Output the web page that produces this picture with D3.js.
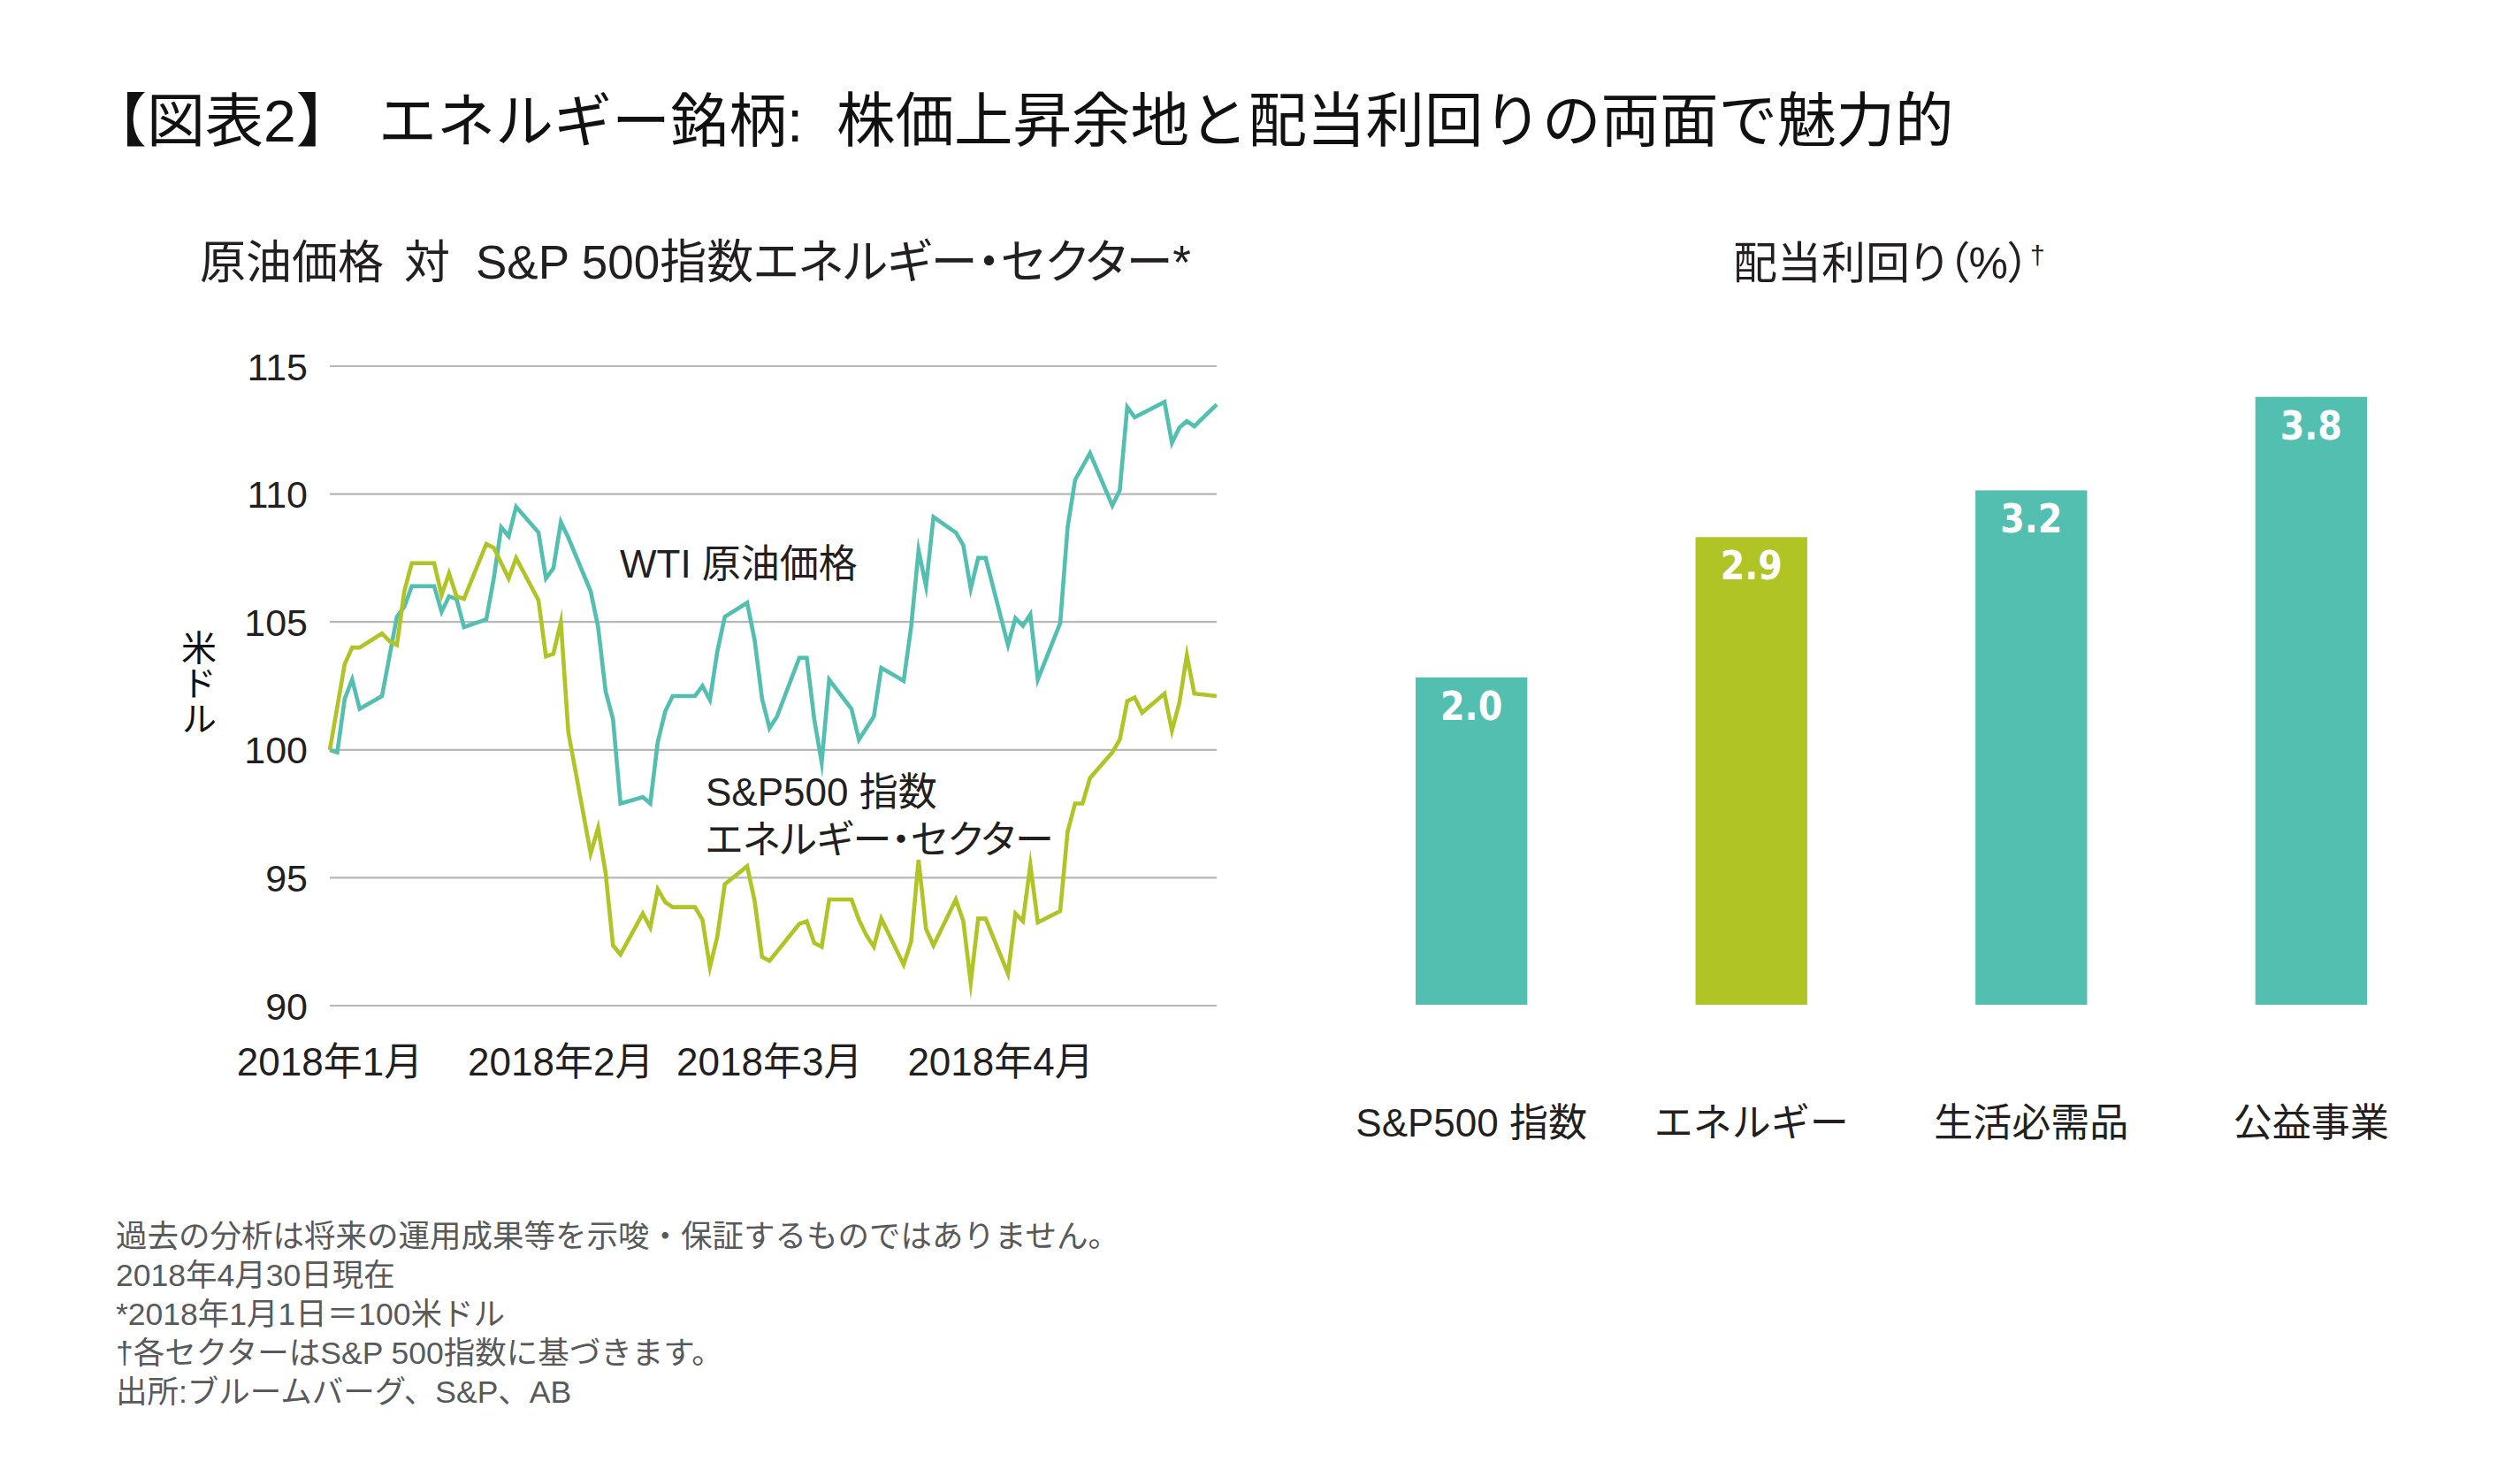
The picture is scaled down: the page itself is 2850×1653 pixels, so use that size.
<!DOCTYPE html>
<html><head><meta charset="utf-8">
<script src="https://cdn.jsdelivr.net/npm/d3@7"></script>
<style>
body{margin:0;background:#fff;}
svg text{font-family:"Liberation Sans",Arial,"Noto Sans CJK JP",sans-serif;}
.palt{font-feature-settings:"palt" 1;}
</style></head><body>
<svg id="chart" width="2850" height="1653"></svg>
<script>
// ---------- data ----------
const wtiDates = ["2018-01-01","2018-01-02","2018-01-03","2018-01-04","2018-01-05","2018-01-08","2018-01-10","2018-01-11","2018-01-12","2018-01-15","2018-01-16","2018-01-17","2018-01-18","2018-01-19","2018-01-22","2018-01-23","2018-01-24","2018-01-25","2018-01-26","2018-01-29","2018-01-30","2018-01-31","2018-02-01","2018-02-02","2018-02-05","2018-02-06","2018-02-07","2018-02-08","2018-02-09","2018-02-12","2018-02-13","2018-02-14","2018-02-15","2018-02-16","2018-02-19","2018-02-20","2018-02-21","2018-02-22","2018-02-23","2018-02-26","2018-02-27","2018-02-28","2018-03-01","2018-03-02","2018-03-05","2018-03-06","2018-03-07","2018-03-08","2018-03-09","2018-03-12","2018-03-13","2018-03-15","2018-03-16","2018-03-19","2018-03-20","2018-03-21","2018-03-22","2018-03-23","2018-03-26","2018-03-27","2018-03-28","2018-03-29","2018-03-30","2018-04-02","2018-04-03","2018-04-04","2018-04-05","2018-04-06","2018-04-09","2018-04-10","2018-04-11","2018-04-13","2018-04-16","2018-04-17","2018-04-18","2018-04-19","2018-04-23","2018-04-24","2018-04-25","2018-04-26","2018-04-27","2018-04-30"];
const wtiValues = [100.0,99.9,102.0,102.75,101.6,102.1,105.2,105.6,106.4,106.4,105.4,106.0,105.9,104.8,105.1,106.7,108.7,108.35,109.5,108.5,106.7,107.1,108.9,108.3,106.2,104.8,102.3,101.2,97.9,98.15,97.9,100.3,101.5,102.1,102.1,102.5,101.95,103.85,105.2,105.75,104.3,102.0,100.85,101.3,103.6,103.6,101.2,99.5,102.75,101.6,100.4,101.3,103.2,102.7,104.8,107.8,106.4,109.1,108.5,108.0,106.3,107.5,107.5,104.1,105.15,104.85,105.3,102.75,104.95,108.7,110.55,111.6,109.55,110.15,113.4,113.0,113.6,112.0,112.6,112.85,112.65,113.5];

const energyDates = ["2018-01-01","2018-01-03","2018-01-04","2018-01-05","2018-01-08","2018-01-09","2018-01-10","2018-01-11","2018-01-12","2018-01-15","2018-01-16","2018-01-17","2018-01-18","2018-01-19","2018-01-22","2018-01-23","2018-01-25","2018-01-26","2018-01-29","2018-01-30","2018-01-31","2018-02-01","2018-02-02","2018-02-05","2018-02-06","2018-02-07","2018-02-08","2018-02-09","2018-02-12","2018-02-13","2018-02-14","2018-02-15","2018-02-16","2018-02-19","2018-02-20","2018-02-21","2018-02-22","2018-02-23","2018-02-26","2018-02-27","2018-02-28","2018-03-01","2018-03-05","2018-03-06","2018-03-07","2018-03-08","2018-03-09","2018-03-12","2018-03-13","2018-03-14","2018-03-15","2018-03-16","2018-03-19","2018-03-20","2018-03-21","2018-03-22","2018-03-23","2018-03-26","2018-03-27","2018-03-28","2018-03-29","2018-03-30","2018-04-02","2018-04-03","2018-04-04","2018-04-05","2018-04-06","2018-04-09","2018-04-10","2018-04-11","2018-04-12","2018-04-13","2018-04-16","2018-04-17","2018-04-18","2018-04-19","2018-04-20","2018-04-23","2018-04-24","2018-04-25","2018-04-26","2018-04-27","2018-04-30"];
const energyValues = [100.0,103.35,104.0,104.0,104.55,104.25,104.1,106.2,107.3,107.3,106.05,106.9,106.0,105.9,108.05,107.9,106.7,107.5,105.85,103.65,103.75,105.0,100.7,95.95,96.95,95.2,92.35,92.0,93.6,93.05,94.55,94.05,93.85,93.85,93.35,91.5,92.7,94.75,95.45,94.1,91.9,91.75,93.2,93.3,92.45,92.3,94.15,94.15,93.35,92.75,92.3,93.4,91.6,92.5,95.7,93.0,92.35,94.15,93.3,90.9,93.4,93.4,91.25,93.6,93.3,95.5,93.25,93.7,96.8,97.9,97.9,98.9,99.9,100.4,101.9,102.05,101.45,102.2,100.75,101.85,103.7,102.2,102.1];

const yTickValues = [90, 95, 100, 105, 110, 115];
const monthTickDates = ["2018-01-01","2018-02-01","2018-03-01","2018-04-01"];
const monthTickLabels = ["2018年1月","2018年2月","2018年3月","2018年4月"];

const barCategories = ["S&P500 指数","エネルギー","生活必需品","公益事業"];
const barValues = [2.0, 2.9, 3.2, 3.8];
const barValueLabels = ["2.0","2.9","3.2","3.8"];

const footnotes = [
  "過去の分析は将来の運用成果等を示唆・保証するものではありません。",
  "2018年4月30日現在",
  "*2018年1月1日＝100米ドル",
  "†各セクターはS&P 500指数に基づきます。",
  "出所:ブルームバーグ、S&P、AB"
];

// ---------- styles ----------
const TEAL = "#52bfb0", GREEN = "#b1c425", INK = "#231f20", GRID = "#b7b7b7", NOTE = "#58595b";
const parse = d3.timeParse("%Y-%m-%d");
const svg = d3.select("#chart");

// ---------- title ----------
const title = svg.append("text").attr("y", 160).attr("font-size", 66).attr("fill", "#111");
title.append("tspan").attr("x", 100).text("【図表2】");
title.append("tspan").attr("x", 428).text("エネルギー銘柄:");
title.append("tspan").attr("x", 946).attr("font-size", 66.5).text("株価上昇余地と配当利回りの両面で魅力的");

// ---------- line chart ----------
const x = d3.scaleTime().domain([parse("2018-01-01"), parse("2018-04-30")]).range([373, 1376]);
const y = d3.scaleLinear().domain([90, 115]).range([1137, 414]);

const sub1 = svg.append("text").attr("y", 315).attr("font-size", 52).attr("fill", INK).attr("class","palt");
sub1.append("tspan").attr("x", 226).text("原油価格");
sub1.append("tspan").attr("x", 457).text("対");
sub1.append("tspan").attr("x", 538).attr("font-size", 53).text("S&P 500指数エネルギー・セクター*");

svg.append("g").selectAll("line").data(yTickValues).join("line")
  .attr("x1", x.range()[0]).attr("x2", x.range()[1])
  .attr("y1", d => y(d)).attr("y2", d => y(d))
  .attr("stroke", GRID).attr("stroke-width", 2.2);

svg.append("g").selectAll("text").data(yTickValues).join("text")
  .attr("x", 348).attr("y", d => y(d) + 15.5)
  .attr("text-anchor", "end").attr("font-size", 43).attr("fill", INK)
  .text(d => d);

svg.append("g").selectAll("text").data(monthTickDates).join("text")
  .attr("x", d => x(parse(d))).attr("y", 1216)
  .attr("text-anchor", "middle").attr("font-size", 44).attr("fill", INK)
  .text((d, i) => monthTickLabels[i]);

svg.append("text").attr("x", 222).attr("y", 772)
  .attr("text-anchor", "middle").attr("font-size", 40).attr("fill", "#111")
  .style("writing-mode", "vertical-rl")
  .text("米ドル");

const line = d3.line().x(d => x(d.date)).y(d => y(d.value));
const wti = wtiDates.map((d, i) => ({date: parse(d), value: wtiValues[i]}));
const energy = energyDates.map((d, i) => ({date: parse(d), value: energyValues[i]}));

svg.append("path").datum(wti).attr("d", line)
  .attr("fill", "none").attr("stroke", TEAL).attr("stroke-width", 4.6)
  .attr("stroke-linejoin", "miter").attr("stroke-miterlimit", 10);
svg.append("path").datum(energy).attr("d", line)
  .attr("fill", "none").attr("stroke", GREEN).attr("stroke-width", 4.6)
  .attr("stroke-linejoin", "miter").attr("stroke-miterlimit", 10);

svg.append("text").attr("x", 701).attr("y", 653).attr("font-size", 44).attr("fill", INK).text("WTI 原油価格");
svg.append("text").attr("x", 798).attr("y", 911).attr("font-size", 44).attr("fill", INK).text("S&P500 指数");
svg.append("text").attr("x", 798).attr("y", 965).attr("font-size", 44).attr("fill", INK).attr("class","palt").text("エネルギー・セクター");

// ---------- bar chart ----------
const sub2 = svg.append("text").attr("x", 1960).attr("y", 315)
  .attr("font-size", 50).attr("fill", INK).attr("class","palt");
sub2.append("tspan").text("配当利回り（%）");
sub2.append("tspan").attr("font-size", 30).attr("dy", -16).text("†");

const xb = d3.scaleBand().domain(barCategories).range([1601, 2677]).paddingInner(0.601).paddingOuter(0);
const yb = d3.scaleLinear().domain([-0.1, 3.8]).range([1136, 448.7]);

svg.append("g").selectAll("rect").data(barValues).join("rect")
  .attr("x", (d, i) => xb(barCategories[i]))
  .attr("width", xb.bandwidth())
  .attr("y", d => yb(d))
  .attr("height", d => yb(yb.domain()[0]) - yb(d))
  .attr("fill", (d, i) => i === 1 ? GREEN : TEAL);

svg.append("g").selectAll("text").data(barValues).join("text")
  .attr("x", (d, i) => xb(barCategories[i]) + xb.bandwidth() / 2)
  .attr("y", d => yb(d) + 48)
  .attr("text-anchor", "middle").attr("font-size", 44).attr("font-weight", "bold")
  .style("font-family", "'DejaVu Sans Condensed','Liberation Sans Narrow',sans-serif")
  .style("font-stretch", "condensed")
  .attr("fill", "#fff")
  .text((d, i) => barValueLabels[i]);

svg.append("g").selectAll("text").data(barCategories).join("text")
  .attr("x", d => xb(d) + xb.bandwidth() / 2)
  .attr("y", 1285)
  .attr("text-anchor", "middle").attr("font-size", 44).attr("fill", INK)
  .text(d => d);

// ---------- footnotes ----------
svg.append("g").selectAll("text").data(footnotes).join("text")
  .attr("x", 131).attr("y", (d, i) => 1410 + i * 44)
  .attr("font-size", 35.5).attr("fill", NOTE)
  .text(d => d);
</script>
</body></html>
